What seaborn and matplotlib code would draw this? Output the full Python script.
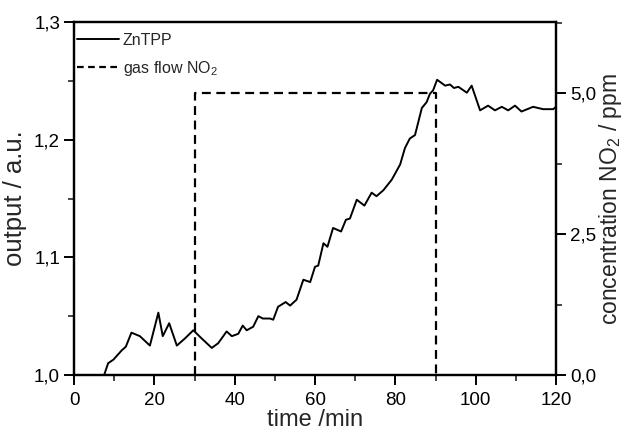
import matplotlib
matplotlib.use("Agg")
import matplotlib.pyplot as plt
import seaborn as sns
import pandas as pd
from matplotlib.ticker import FuncFormatter, MultipleLocator
from matplotlib.lines import Line2D

time_min = [7.5, 8.5, 9.8, 11.9, 12.9, 14.3, 16.4, 18.9, 21.0, 22.1, 23.7, 25.6, 27.6, 29.7, 31.8,
            34.3, 35.9, 38.0, 39.3, 40.9, 42.0, 43.0, 44.6, 45.9, 47.0, 48.8, 49.6, 50.8, 52.7, 53.8,
            55.4, 57.1, 58.8, 60.0, 60.8, 62.1, 63.1, 64.5, 66.5, 67.7, 68.7, 70.4, 72.3, 74.1, 75.3,
            77.0, 79.1, 81.2, 82.4, 83.6, 84.9, 86.6, 87.8, 88.6, 89.4, 90.4, 92.4, 93.6, 94.6, 95.7,
            97.8, 99.0, 101.1, 103.1, 104.8, 106.5, 108.1, 109.8, 111.4, 114.3, 116.8, 119.3, 120.0]
output = [1.000, 1.010, 1.013, 1.021, 1.024, 1.036, 1.033, 1.025, 1.053, 1.033, 1.044, 1.025, 1.031,
          1.038, 1.031, 1.023, 1.027, 1.037, 1.033, 1.035, 1.042, 1.038, 1.041, 1.050, 1.048, 1.048,
          1.047, 1.058, 1.062, 1.059, 1.064, 1.081, 1.079, 1.092, 1.093, 1.112, 1.109, 1.125, 1.122,
          1.132, 1.133, 1.149, 1.144, 1.155, 1.152, 1.157, 1.166, 1.179, 1.193, 1.201, 1.204, 1.227,
          1.232, 1.239, 1.242, 1.251, 1.246, 1.247, 1.244, 1.245, 1.240, 1.246, 1.225, 1.229, 1.225,
          1.228, 1.225, 1.229, 1.224, 1.228, 1.226, 1.226, 1.228]

flow_time = [30, 30, 90, 90]
flow_conc = [0.0, 5.0, 5.0, 0.0]

x_ticks = [0, 20, 40, 60, 80, 100, 120]
y_ticks = [1.0, 1.1, 1.2, 1.3]
y2_ticks = [0.0, 2.5, 5.0]

sns.set_style("ticks")
plt.rcParams['font.family'] = ['Liberation Sans', 'DejaVu Sans']
plt.rcParams['mathtext.fontset'] = 'custom'
plt.rcParams['mathtext.rm'] = 'Liberation Sans'
plt.rcParams['mathtext.it'] = 'Liberation Sans'
plt.rcParams['mathtext.default'] = 'regular'

fig = plt.figure(figsize=(6.25, 4.34), dpi=100)
ax = fig.add_axes([0.1184, 0.136, 0.7712, 0.813])
ax2 = ax.twinx()

df1 = pd.DataFrame({"t": time_min, "y": output})
df2 = pd.DataFrame({"t": flow_time, "c": flow_conc})
dash = (0, (4, 2.5))

sns.lineplot(data=df1, x="t", y="y", ax=ax, color="black", lw=1.4, sort=False, estimator=None)
sns.lineplot(data=df2, x="t", y="c", ax=ax2, color="black", lw=1.6, sort=False, estimator=None)
ax2.lines[0].set_linestyle(dash)

ax.set_xlim(0, 120)
ax.set_ylim(1.0, 1.3)
ax2.set_ylim(0, 6.26)

comma = FuncFormatter(lambda v, p: f"{v:.1f}".replace('.', ','))
ax.set_xticks(x_ticks)
ax.xaxis.set_minor_locator(MultipleLocator(10))
ax.set_yticks(y_ticks)
ax.yaxis.set_minor_locator(MultipleLocator(0.05))
ax.yaxis.set_major_formatter(comma)
ax2.set_yticks(y2_ticks)
ax2.yaxis.set_minor_locator(MultipleLocator(1.25))
ax2.yaxis.set_major_formatter(comma)

for a in (ax, ax2):
    for s in a.spines.values():
        s.set_linewidth(1.6)
        s.set_color("black")
    a.tick_params(which='major', length=7, width=1.4, direction='out', labelsize=13.5, colors='black')
    a.tick_params(which='minor', length=4, width=1.2, direction='out')
ax.tick_params(axis='x', pad=5)
ax.tick_params(axis='y', pad=3)
ax2.tick_params(axis='y', pad=3)

ax.set_xlabel("time /min", fontsize=17, labelpad=0)
ax.set_ylabel("output / a.u.", fontsize=18.5, labelpad=5)
ax2.set_ylabel("concentration NO$_2$ / ppm", fontsize=16.5, labelpad=1)

handles = [Line2D([], [], color='black', lw=1.4),
           Line2D([], [], color='black', lw=1.6, linestyle=(0, (3, 2)))]
ax.legend(handles, ["ZnTPP", "gas flow NO$_2$"], loc='upper left', frameon=False,
          bbox_to_anchor=(-0.0145, 1.0),
          fontsize=11.5, handlelength=2.6, handletextpad=0.25, borderaxespad=0.45,
          labelspacing=0.7, borderpad=0.2)

fig.savefig("out.png", dpi=100)
